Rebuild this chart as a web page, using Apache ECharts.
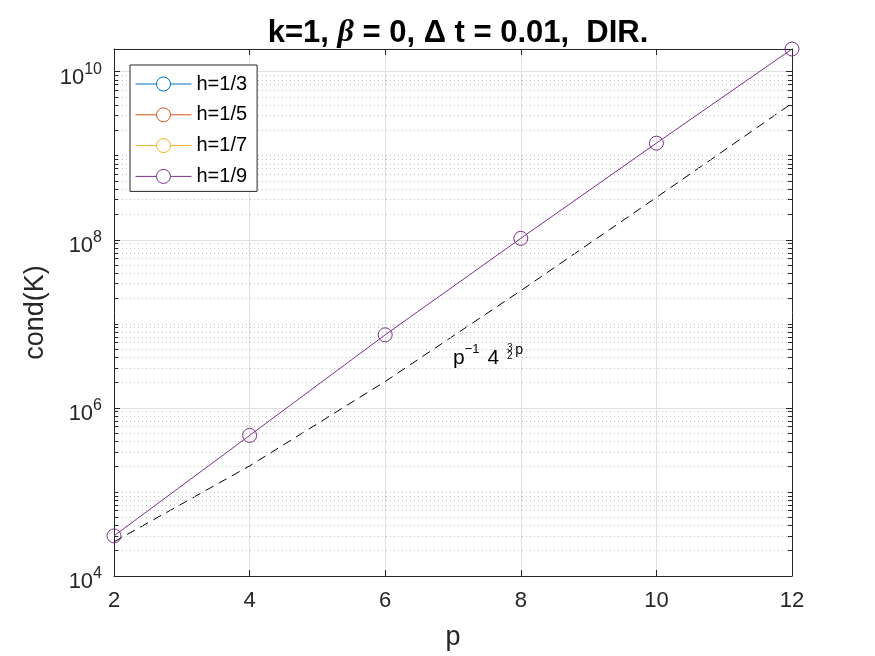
<!DOCTYPE html>
<html>
<head>
<meta charset="utf-8">
<title>cond(K)</title>
<script src="https://cdn.jsdelivr.net/npm/echarts@6/dist/echarts.min.js"></script>
<style>
html, body { margin: 0; padding: 0; background: #fff; }
#main { width: 875px; height: 656px; }
</style>
</head>
<body>
<div id="main"></div>
<script>
/* ============================= 数据 ================================ */
var pVals  = [2, 4, 6, 8, 10, 12];
var condH3 = [3.0e4, 4.7e5, 7.4e6, 1.04e8, 1.41e9, 1.86e10];
var condH5 = [3.0e4, 4.7e5, 7.4e6, 1.04e8, 1.41e9, 1.86e10];
var condH7 = [3.0e4, 4.7e5, 7.4e6, 1.04e8, 1.41e9, 1.86e10];
var condH9 = [3.0e4, 4.7e5, 7.4e6, 1.04e8, 1.41e9, 1.86e10];
var refLine = [2.55e4, 2.04e5, 2.06e6, 2.48e7, 3.19e8, 4.2e9]; // p^-1 4^(3/2 p)
var seriesNames = ['h=1/3', 'h=1/5', 'h=1/7', 'h=1/9'];
var seriesColors = ['#0072BD', '#D95319', '#EDB120', '#7E2F8E'];
var yMin = 1e4, yMax = 1.86e10;
var annoPos = [7, 3.9e6];

var FONT = 'Liberation Sans, Arial, Helvetica, sans-serif';
var TXT = '#262626';

// 对数轴的次网格 (2..9 x 10^n)
var minorVals = [];
for (var d = 4; d <= 10; d++) {
	for (var m = 1; m <= 9; m++) {
		var v = m * Math.pow(10, d);
		if (m == 1 && d % 2 == 0) continue; // 主刻度
		if (v >= yMax) continue;
		minorVals.push(v);
	}
}
var tickLen = 0.06; // 次刻度长度 (x 数据单位)
var markData = [];
minorVals.forEach(function (v) {
	markData.push({ yAxis: v, lineStyle: { type: [1, 3], color: '#c4c4c4', width: 1 } });
});
minorVals.forEach(function (v) {
	var st = { type: 'solid', color: TXT, width: 1 };
	markData.push([{ coord: [2, v], lineStyle: st }, { coord: [2 + tickLen, v] }]);
	markData.push([{ coord: [12 - tickLen, v], lineStyle: st }, { coord: [12, v] }]);
});

function zip(ys) {
	return pVals.map(function (x, i) { return [x, ys[i]]; });
}

function logLabel(v) {
	var e = Math.log10(v);
	if (Math.abs(e - Math.round(e)) > 1e-6) return '';
	return '{b|10}{s|' + Math.round(e) + '}';
}

var chart = echarts.init(document.getElementById('main'));

var series = [];
// 参考线 (虚线) 放在最下面
series.push({
	name: 'ref',
	type: 'line',
	data: zip(refLine),
	showSymbol: false,
	symbol: 'none',
	clip: false,
	z: 1,
	lineStyle: { color: '#000', width: 1, type: [9, 6] },
	silent: true,
	markLine: {
		silent: true,
		symbol: ['none', 'none'],
		label: { show: false },
		animation: false,
		data: markData
	},
	markPoint: {
		symbol: 'circle',
		symbolSize: 0,
		animation: false,
		data: [
			{
				coord: annoPos,
				label: {
					show: true, position: 'right', distance: 0,
					formatter: '{b|p}{s|\u22121}{g1|}{b|4}{g2|}{sp|p}',
					rich: {
						b: { fontFamily: FONT, fontSize: 21, color: '#000' },
						s: { fontFamily: FONT, fontSize: 13, color: '#000', padding: [0, 0, 18, 0] },
						sp: { fontFamily: FONT, fontSize: 14, color: '#000', padding: [0, 0, 16, 0] },
						g1: { width: 8 },
						g2: { width: 16 }
					}
				}
			},
			{
				coord: annoPos,
				label: {
					show: true, position: 'right', distance: 0, offset: [54, -6],
					formatter: '{f|3}\n{f|2}',
					rich: { f: { fontFamily: FONT, fontSize: 10, lineHeight: 8, color: '#000' } }
				}
			}
		]
	}
});

// h=1/3 .. 1/7 与 h=1/9 完全重合, 被其盖住
seriesNames.forEach(function (name, i) {
	var ys = [condH3, condH5, condH7, condH9][i];
	var hidden = i < seriesNames.length - 1;
	series.push({
		name: name,
		type: 'line',
		data: zip(ys),
		symbol: 'circle',
		symbolSize: 14,
		clip: false,
		z: 2 + i,
		color: seriesColors[i],
		lineStyle: { width: 1, color: seriesColors[i], opacity: hidden ? 0 : 1 },
		itemStyle: { color: 'rgba(255,255,255,0)', borderWidth: 1, borderColor: seriesColors[i], opacity: hidden ? 0 : 1 }
	});
});

var legendData = seriesNames.map(function (name, i) {
	return {
		name: name,
		itemStyle: { color: '#fff', borderColor: seriesColors[i], borderWidth: 1, opacity: 1 },
		lineStyle: { color: seriesColors[i], width: 1, type: 'solid', opacity: 1 }
	};
});

var option = {
	animation: false,
	backgroundColor: '#fff',
	title: {
		left: 453,
		top: 12,
		textAlign: 'center',
		text: '{a|k=1, }{g|\u03b2}{a| = 0, \u0394 t = 0.01,  DIR.}',
		textStyle: {
			rich: {
				a: { fontFamily: FONT, fontSize: 31, fontWeight: 'bold', color: '#000' },
				g: { fontFamily: 'Liberation Serif, DejaVu Serif, serif', fontSize: 32, fontStyle: 'italic', color: '#000' }
			}
		}
	},
	legend: {
		data: legendData,
		orient: 'vertical',
		left: 130,
		top: 65,
		z: 20,
		align: 'left',
		itemWidth: 56,
		itemHeight: 17.5,
		itemGap: 10.8,
		padding: [9, 10, 5, 5],
		backgroundColor: '#fff',
		borderColor: TXT,
		borderWidth: 1,
		borderRadius: 0,
		textStyle: { fontFamily: FONT, fontSize: 20, color: '#000' }
	},
	grid: { left: 114, right: 83, top: 49, bottom: 79, containLabel: false },
	xAxis: [
		{
			type: 'value', min: 2, max: 12, interval: 2,
			name: 'p', nameLocation: 'middle', nameGap: 48,
			nameTextStyle: { fontFamily: FONT, fontSize: 27, color: TXT },
			axisLine: { show: true, onZero: false, lineStyle: { color: TXT, width: 1 } },
			axisTick: { show: true, inside: true, length: 6, lineStyle: { color: TXT } },
			axisLabel: { fontFamily: FONT, fontSize: 22, color: TXT, margin: 14 },
			splitLine: { show: true, lineStyle: { color: '#dfdfdf', width: 1 } }
		},
		{
			type: 'value', min: 2, max: 12, interval: 2, position: 'top',
			axisLine: { show: true, onZero: false, lineStyle: { color: TXT, width: 1 } },
			axisTick: { show: true, inside: true, length: 6, lineStyle: { color: TXT } },
			axisLabel: { show: false },
			splitLine: { show: false }
		}
	],
	yAxis: [
		{
			type: 'log', logBase: 10, min: yMin, max: yMax, interval: 2,
			name: 'cond(K)', nameLocation: 'middle', nameGap: 57,
			nameTextStyle: { fontFamily: FONT, fontSize: 27, color: TXT },
			axisLine: { show: true, onZero: false, lineStyle: { color: TXT, width: 1 } },
			axisTick: { show: true, inside: true, length: 6, lineStyle: { color: TXT } },
			axisLabel: {
				margin: 12,
				formatter: logLabel,
				rich: {
					b: { fontFamily: FONT, fontSize: 22, color: TXT, padding: [12, 0, 0, 0] },
					s: { fontFamily: FONT, fontSize: 16, color: TXT, padding: [0, 0, 5, 0] }
				}
			},
			splitLine: { show: true, lineStyle: { color: '#dfdfdf', width: 1 } }
		},
		{
			type: 'log', logBase: 10, min: yMin, max: yMax, interval: 2, position: 'right',
			axisLine: { show: true, onZero: false, lineStyle: { color: TXT, width: 1 } },
			axisTick: { show: true, inside: true, length: 6, lineStyle: { color: TXT } },
			axisLabel: { show: false },
			splitLine: { show: false }
		}
	],
	series: series
};

chart.setOption(option);
</script>
</body>
</html>
